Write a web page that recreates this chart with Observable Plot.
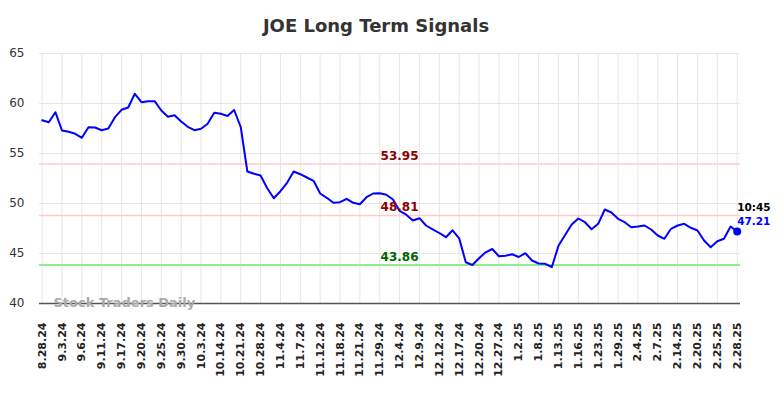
<!DOCTYPE html>
<html>
<head>
<meta charset="utf-8">
<script src="https://cdn.jsdelivr.net/npm/d3@7"></script>
<script src="https://cdn.jsdelivr.net/npm/@observablehq/plot@0.6"></script>
<style>
  html, body { margin: 0; padding: 0; background: #fff; }
  #chart { width: 784px; height: 398px; }
</style>
</head>
<body>
<div id="chart"></div>
<script>
const title = "JOE Long Term Signals";
const watermark = "Stock Traders Daily";
const tickLabels = ["8.28.24","9.3.24","9.6.24","9.11.24","9.17.24","9.20.24","9.25.24","9.30.24","10.3.24","10.14.24","10.21.24","10.28.24","11.4.24","11.7.24","11.12.24","11.18.24","11.21.24","11.29.24","12.4.24","12.9.24","12.12.24","12.17.24","12.20.24","12.27.24","1.2.25","1.8.25","1.13.25","1.16.25","1.23.25","1.29.25","2.4.25","2.7.25","2.14.25","2.20.25","2.25.25","2.28.25"];
const prices = [58.33,58.13,59.13,57.3,57.17,56.97,56.57,57.63,57.6,57.33,57.5,58.63,59.37,59.6,60.97,60.13,60.23,60.23,59.3,58.67,58.83,58.2,57.67,57.33,57.47,57.97,59.07,58.97,58.75,59.35,57.65,53.2,52.97,52.8,51.53,50.53,51.23,52.07,53.2,52.93,52.6,52.27,51.0,50.57,50.07,50.13,50.47,50.07,49.93,50.63,51.0,51.03,50.88,50.4,49.27,48.88,48.3,48.53,47.8,47.42,47.05,46.63,47.32,46.52,44.12,43.85,44.53,45.12,45.45,44.73,44.77,44.92,44.65,45.03,44.3,44.0,43.97,43.65,45.77,46.85,47.9,48.5,48.13,47.43,47.97,49.4,49.1,48.47,48.13,47.63,47.7,47.8,47.4,46.8,46.47,47.47,47.8,47.97,47.57,47.3,46.3,45.63,46.23,46.47,47.7,47.21];
const resistanceLevels = [53.95, 48.81];
const supportLevels = [43.86];
const lastTime = "10:45";
const yTicks = [40, 45, 50, 55, 60, 65];
const tickEvery = 3;

const data = prices.map((v, i) => ({i, v}));
const last = data[data.length - 1];
const xTicks = tickLabels.map((_, k) => k * tickEvery);
const labelIdx = 54;

const chart = Plot.plot({
  width: 784,
  height: 398,
  marginTop: 53,
  marginBottom: 95,
  marginLeft: 39,
  marginRight: 44,
  style: {fontFamily: "DejaVu Sans", background: "#fff"},
  x: {domain: [-0.4, 105.5], label: null},
  y: {domain: [40, 65], label: null},
  marks: [
    Plot.gridY(yTicks, {stroke: "#e6e6e6", strokeOpacity: 1, strokeWidth: 1}),
    Plot.gridX(xTicks, {stroke: "#e6e6e6", strokeOpacity: 1, strokeWidth: 1}),
    Plot.axisY(yTicks, {tickSize: 0, tickPadding: 15, fontSize: 12, fill: "#333", label: null}),
    Plot.axisX(xTicks, {tickSize: 0, tickPadding: 19, tickRotate: -90, fontSize: 11, fontWeight: "bold", fill: "#222",
      label: null, tickFormat: d => tickLabels[d / tickEvery]}),
    Plot.ruleY(resistanceLevels, {stroke: "#ffcccc", strokeWidth: 1.5}),
    Plot.ruleY(supportLevels, {stroke: "#90ee90", strokeWidth: 2}),
    Plot.ruleY([40], {stroke: "#555", strokeWidth: 1.3}),
    Plot.text([watermark], {frameAnchor: "bottom-left", dx: 14, dy: -1, lineAnchor: "middle", textAnchor: "start",
      fontSize: 13, fontWeight: "bold", fill: "#aaa"}),
    Plot.line(data, {x: "i", y: "v", stroke: "#0000ff", strokeWidth: 2}),
    Plot.text(resistanceLevels, {x: labelIdx, y: d => d, dy: -8, text: d => d.toFixed(2), fill: "#8b0000",
      fontSize: 12, fontWeight: "bold"}),
    Plot.text(supportLevels, {x: labelIdx, y: d => d, dy: -8, text: d => d.toFixed(2), fill: "#006400",
      fontSize: 12, fontWeight: "bold"}),
    Plot.dot([last], {x: "i", y: "v", r: 4, fill: "#0000ff"}),
    Plot.text([last], {x: "i", y: "v", text: () => lastTime, dy: -24, textAnchor: "start", fontSize: 10.5,
      fontWeight: "bold", fill: "#000"}),
    Plot.text([last], {x: "i", y: "v", text: d => d.v.toFixed(2), dy: -10, textAnchor: "start", fontSize: 10.5,
      fontWeight: "bold", fill: "#0000ff"}),
    Plot.text([title], {frameAnchor: "top", dx: -14, dy: -27, lineAnchor: "middle", fontSize: 18,
      fontWeight: "bold", fill: "#333"})
  ]
});
document.getElementById("chart").appendChild(chart);
</script>
</body>
</html>
